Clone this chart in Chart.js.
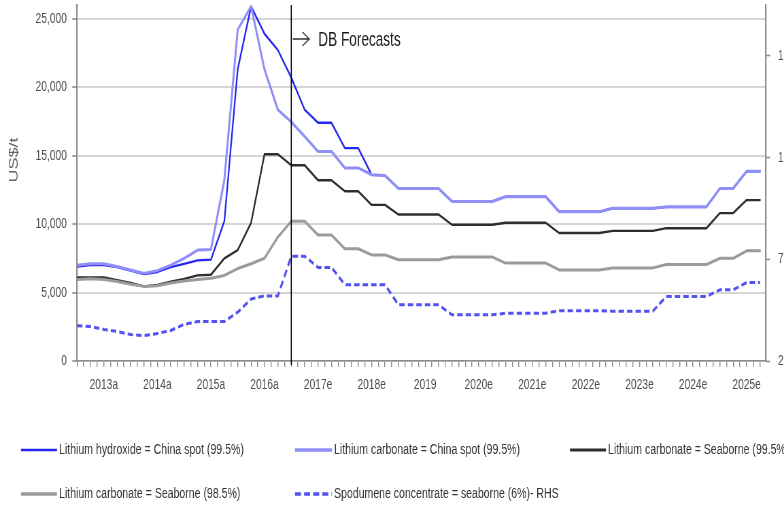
<!DOCTYPE html>
<html>
<head>
<meta charset="utf-8">
<script src="https://cdn.jsdelivr.net/npm/chart.js@4.4.1/dist/chart.umd.min.js"></script>
<style>
  html, body { margin: 0; padding: 0; background: #fff; }
  body { width: 784px; height: 506px; overflow: hidden; position: relative; }
  #wrap { position: absolute; left: 0; top: 0; transform: scaleX(0.68); transform-origin: 0 0; }
</style>
</head>
<body>
<div id="wrap"><canvas id="c" width="1200" height="506"></canvas></div>
<script>
// Quarterly lithium prices, 1Q13 to 4Q25 (US$/t); spodumene on the right-hand axis.
const yearLabels = ["2013a","2014a","2015a","2016a","2017e","2018e","2019","2020e","2021e","2022e","2023e","2024e","2025e"];

const seriesNames = [
  "Lithium hydroxide = China spot (99.5%)",
  "Lithium carbonate = China spot (99.5%)",
  "Lithium carbonate = Seaborne (99.5%)",
  "Lithium carbonate = Seaborne (98.5%)",
  "Spodumene concentrate = seaborne (6%)- RHS"
];

const hydroxideChina = [
  6900, 7000, 7000, 6850, 6600, 6350, 6500, 6850, 7100, 7350, 7400, 10200,
  21300, 25900, 23900, 22700, 20700, 18350, 17400, 17400, 15550, 15550, 13600, 13550,
  12600, 12600, 12600, 12600, 11650, 11650, 11650, 11650, 12000, 12000, 12000, 12000,
  10900, 10900, 10900, 10900, 11150, 11150, 11150, 11150, 11250, 11250, 11250, 11250,
  12600, 12600, 13850, 13850
];

const carbonateChina = [
  7000, 7100, 7100, 6900, 6650, 6400, 6600, 7000, 7500, 8100, 8150, 13200,
  24200, 25900, 21300, 18350, 17450, 16400, 15300, 15300, 14100, 14100, 13600, 13550,
  12600, 12600, 12600, 12600, 11650, 11650, 11650, 11650, 12000, 12000, 12000, 12000,
  10900, 10900, 10900, 10900, 11150, 11150, 11150, 11150, 11250, 11250, 11250, 11250,
  12600, 12600, 13850, 13850
];

const carbonateSeaborne995 = [
  6100, 6100, 6100, 5900, 5700, 5450, 5550, 5800, 6000, 6250, 6300, 7500,
  8100, 10100, 15100, 15100, 14300, 14300, 13200, 13200, 12400, 12400, 11400, 11400,
  10700, 10700, 10700, 10700, 9950, 9950, 9950, 9950, 10100, 10100, 10100, 10100,
  9350, 9350, 9350, 9350, 9500, 9500, 9500, 9500, 9700, 9700, 9700, 9700,
  10800, 10800, 11750, 11750
];

const carbonateSeaborne985 = [
  5950, 6000, 5950, 5800, 5600, 5450, 5500, 5700, 5850, 5950, 6050, 6250,
  6750, 7100, 7500, 9050, 10200, 10200, 9200, 9200, 8200, 8200, 7750, 7750,
  7400, 7400, 7400, 7400, 7600, 7600, 7600, 7600, 7150, 7150, 7150, 7150,
  6650, 6650, 6650, 6650, 6800, 6800, 6800, 6800, 7050, 7050, 7050, 7050,
  7500, 7500, 8050, 8050
];

const spodumeneSeaborne = [
  423, 420, 405, 395, 380, 375, 385, 400, 430, 444, 444, 444,
  490, 555, 570, 570, 765, 765, 710, 710, 625, 625, 625, 625,
  526, 526, 526, 526, 477, 477, 477, 477, 485, 485, 485, 485,
  497, 497, 497, 497, 495, 495, 495, 495, 567, 567, 567, 567,
  600, 600, 636, 636
];

const leftTicks = [0, 5000, 10000, 15000, 20000, 25000];
const rightTicks = [250, 750, 1250, 1750];
const forecastStart = 16;   // 1Q17, first forecast quarter

// The canvas is drawn wide and squeezed horizontally by CSS.
const SQUEEZE = 0.68;
const CW = 1200;
const sx = v => v / SQUEEZE;          // page x -> canvas x
const FONT = "'Liberation Sans', Arial, sans-serif";

const toPoints = arr => arr.map((v, i) => ({ x: i, y: v }));

const seriesStyle = [
  { color: '#2626f0', width: 2.3, dash: [] },
  { color: '#8f8ff7', width: 3.0, dash: [] },
  { color: '#2e2e2e', width: 2.4, dash: [] },
  { color: '#9b9b9b', width: 3.0, dash: [] },
  { color: '#5252f0', width: 3.0, dash: [8, 4.5] }
];
const seriesData = [hydroxideChina, carbonateChina, carbonateSeaborne995, carbonateSeaborne985, spodumeneSeaborne];

const datasets = seriesData.map((arr, i) => ({
  label: seriesNames[i],
  data: toPoints(arr),
  yAxisID: i === 4 ? 'y2' : 'y',
  borderColor: seriesStyle[i].color,
  backgroundColor: seriesStyle[i].color,
  borderWidth: seriesStyle[i].width,
  borderDash: seriesStyle[i].dash,
  borderJoinStyle: 'round',
  borderCapStyle: i === 4 ? 'butt' : 'round',
  pointRadius: 0,
  tension: 0,
  fill: false,
  order: 4 - i
}));

const forecastMarker = {
  id: 'forecastMarker',
  afterDatasetsDraw(chart) {
    const { ctx, chartArea, scales } = chart;
    const xv = scales.x.getPixelForValue(forecastStart);
    ctx.save();
    ctx.strokeStyle = '#000';
    ctx.lineWidth = 1.6;
    ctx.beginPath();
    ctx.moveTo(xv, chartArea.top);
    ctx.lineTo(xv, chartArea.bottom + 4);
    ctx.stroke();
    // arrow
    ctx.strokeStyle = '#333';
    ctx.lineWidth = 1.4;
    ctx.beginPath();
    ctx.moveTo(xv + sx(1.5), 39);
    ctx.lineTo(xv + sx(18), 39);
    ctx.moveTo(xv + sx(11), 32);
    ctx.lineTo(xv + sx(18), 39);
    ctx.lineTo(xv + sx(11), 46);
    ctx.stroke();
    ctx.fillStyle = '#1a1a1a';
    ctx.font = `20px ${FONT}`;
    ctx.textBaseline = 'alphabetic';
    ctx.textAlign = 'left';
    ctx.fillText('DB Forecasts', xv + sx(27), 46);
    ctx.restore();
  }
};

const axisTitle = {
  id: 'axisTitle',
  afterDraw(chart) {
    const { ctx } = chart;
    ctx.save();
    ctx.translate(sx(14), 160);
    ctx.rotate(-Math.PI / 2);
    ctx.fillStyle = '#666';
    ctx.font = `18px ${FONT}`;
    ctx.textAlign = 'center';
    ctx.textBaseline = 'middle';
    ctx.fillText('US$/t', 0, 0);
    ctx.restore();
  }
};

const legendLayout = [
  { x0: 21, x1: 57, y: 450 },
  { x0: 295, x1: 332, y: 450 },
  { x0: 570, x1: 606, y: 450 },
  { x0: 21, x1: 57, y: 494 },
  { x0: 295, x1: 332, y: 494 }
];

const bottomLegend = {
  id: 'bottomLegend',
  afterDraw(chart) {
    const { ctx } = chart;
    ctx.save();
    chart.data.datasets.forEach((ds, i) => {
      const L = legendLayout[i];
      ctx.strokeStyle = ds.borderColor;
      ctx.lineWidth = ds.borderWidth + 0.4;
      ctx.setLineDash(i === 4 ? [8.8, 4.6] : []);
      ctx.lineCap = 'butt';
      ctx.beginPath();
      ctx.moveTo(sx(L.x0), L.y);
      ctx.lineTo(sx(L.x1), L.y);
      ctx.stroke();
      ctx.setLineDash([]);
      ctx.fillStyle = '#333';
      ctx.font = `15.5px ${FONT}`;
      ctx.textAlign = 'left';
      ctx.textBaseline = 'middle';
      ctx.fillText(ds.label, sx(L.x1 + 2), L.y);
    });
    ctx.restore();
  }
};

const tickFont = { family: FONT, size: 15 };

new Chart(document.getElementById('c'), {
  type: 'line',
  data: { datasets },
  options: {
    responsive: false,
    animation: false,
    devicePixelRatio: 1,
    layout: { padding: { top: 5, bottom: 105, left: 0, right: 0 } },
    plugins: { legend: { display: false }, tooltip: { enabled: false } },
    scales: {
      x: {
        type: 'linear',
        min: 0,
        max: 51.45,
        afterBuildTicks: s => {
          const t = [];
          for (let i = 0; i <= 102; i++) t.push({ value: i / 2 });
          s.ticks = t;
        },
        ticks: {
          autoSkip: false, maxRotation: 0, minRotation: 0, padding: 9,
          color: '#4d4d4d', font: tickFont,
          callback: v => {
            const k = (v - 2) / 4;
            return Number.isInteger(k) && k >= 0 && k < yearLabels.length ? yearLabels[k] : '';
          }
        },
        grid: { drawOnChartArea: false, drawTicks: true, tickLength: 6, color: '#8c8c8c', lineWidth: 1.4 },
        border: { color: '#8c8c8c', width: 1.6 },
        afterFit: s => { s.height = 40; s.paddingLeft = 0; s.paddingRight = 0; }
      },
      y: {
        position: 'left',
        min: 0,
        max: 26000,
        afterBuildTicks: s => { s.ticks = leftTicks.map(v => ({ value: v })); },
        ticks: { color: '#4d4d4d', font: tickFont, padding: 8, callback: v => v.toLocaleString('en-US') },
        grid: { color: '#d6d6d6', lineWidth: 2, drawTicks: true, tickLength: 7, tickColor: '#8c8c8c', tickWidth: 1.6 },
        border: { color: '#8c8c8c', width: 2.2 },
        afterFit: s => { s.width = sx(77); s.paddingTop = 0; s.paddingBottom = 0; }
      },
      y2: {
        position: 'right',
        min: 250,
        max: 2000,
        afterBuildTicks: s => { s.ticks = rightTicks.map(v => ({ value: v })); },
        ticks: { color: '#4d4d4d', font: tickFont, padding: 11.5, callback: v => v.toLocaleString('en-US') },
        grid: { drawOnChartArea: false, drawTicks: true, tickLength: 6, tickColor: '#8c8c8c', tickWidth: 1.6 },
        border: { color: '#8c8c8c', width: 2.2 },
        afterFit: s => { s.width = CW - sx(766); s.paddingTop = 0; s.paddingBottom = 0; }
      }
    }
  },
  plugins: [forecastMarker, axisTitle, bottomLegend]
});
</script>
</body>
</html>
